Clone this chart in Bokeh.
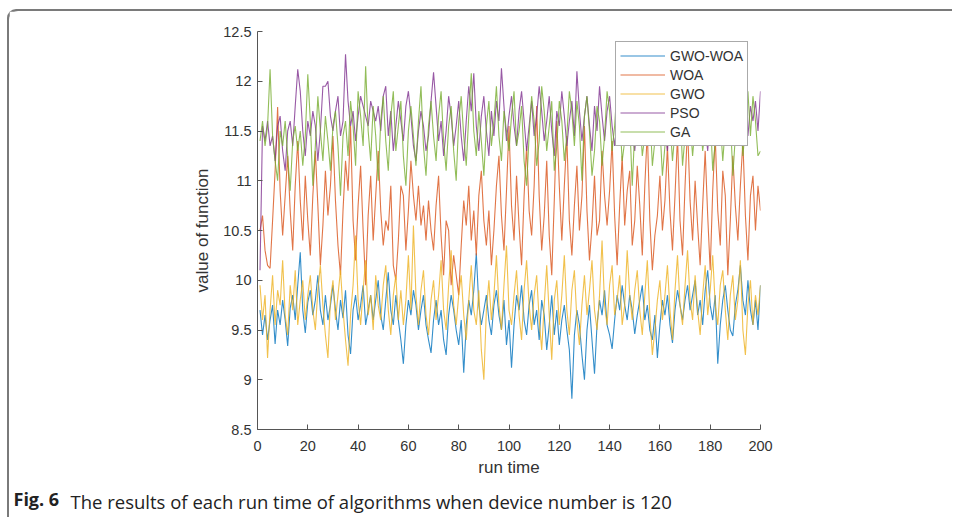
from bokeh.plotting import figure
from bokeh.models import (Label, Legend, LegendItem, FixedTicker, Styles,
                          NumeralTickFormatter, Range1d)
from bokeh.embed import file_html
from bokeh.resources import INLINE

run_time = list(range(1, 201))

gwo_woa = [
    9.70, 9.45, 9.65, 9.40, 9.60, 9.75, 9.36, 9.70, 9.55, 9.80,
    9.60, 9.34, 9.72, 9.85, 9.60, 9.95, 10.28, 9.70, 9.47, 9.78,
    9.90, 9.65, 9.80, 10.05, 9.70, 9.55, 9.85, 9.60, 9.75, 9.95,
    9.70, 9.50, 9.80, 9.62, 9.90, 9.45, 9.26, 9.70, 9.85, 9.60,
    9.75, 9.95, 9.55, 9.70, 9.85, 9.60, 9.80, 10.00, 9.65, 9.50,
    9.80, 10.08, 9.70, 9.55, 9.85, 9.60, 9.40, 9.16, 9.55, 9.80,
    9.65, 9.90, 9.75, 9.50, 9.70, 9.85, 9.55, 9.40, 9.27, 9.60,
    9.80, 9.55, 9.70, 9.40, 9.25, 9.65, 9.85, 9.70, 9.50, 9.35,
    9.60, 9.07, 9.55, 9.80, 9.65, 9.90, 10.27, 9.75, 9.55, 9.70,
    9.85, 9.60, 9.45, 9.75, 9.90, 9.65, 9.50, 9.80, 9.35, 9.60,
    9.12, 9.55, 9.85, 9.70, 9.95, 9.60, 9.45, 9.75, 9.90, 9.55,
    9.70, 9.40, 9.80, 9.65, 9.30, 9.55, 9.85, 9.45, 9.70, 9.35,
    9.60, 9.75, 9.50, 9.30, 8.81, 9.45, 9.70, 9.55, 9.25, 9.00,
    9.50, 9.75, 9.40, 9.06, 9.55, 9.80, 9.65, 9.90, 9.55, 9.45,
    9.31, 9.60, 9.85, 9.70, 9.95, 9.75, 9.60, 9.85, 9.70, 9.46,
    9.65, 9.80, 9.95, 9.60, 9.75, 9.50, 9.40, 9.65, 9.22, 9.55,
    9.80, 9.65, 9.85, 9.55, 9.37, 9.70, 9.90, 9.75, 9.60, 9.80,
    9.95, 9.70, 9.85, 10.00, 9.65, 9.80, 9.55, 9.90, 10.10, 9.75,
    9.60, 9.85, 9.16, 9.55, 9.80, 9.95, 9.70, 9.50, 9.44, 9.75,
    9.90, 10.15, 9.80, 9.65, 10.00, 9.70, 9.55, 9.80, 9.50, 9.95,
]

woa = [
    10.50, 10.65, 10.30, 10.15, 10.12, 10.60, 11.10, 11.74, 10.90, 10.45,
    10.85, 11.25, 10.70, 10.30, 10.95, 11.40, 10.80, 10.40, 11.05, 10.60,
    10.25, 10.85, 11.30, 10.75, 10.15, 10.55, 11.10, 10.65, 10.95, 11.45,
    10.80, 10.35, 10.05, 10.70, 11.20, 10.90, 11.55, 10.60, 10.20, 10.75,
    11.15, 10.50, 9.95, 10.65, 11.05, 10.40, 10.85, 11.30, 10.70, 10.35,
    10.60, 10.50, 10.95, 10.15, 10.00, 10.40, 10.95, 10.85, 10.30, 10.70,
    11.20, 10.85, 10.60, 10.95, 10.55, 10.75, 10.40, 10.80, 10.50, 10.30,
    10.75, 11.05, 10.45, 10.05, 10.60, 10.50, 9.95, 10.25, 10.05, 9.85,
    10.35, 10.80, 10.55, 10.95, 10.40, 10.70, 10.25, 10.85, 11.10, 10.60,
    10.35, 10.70, 10.15, 10.50, 10.95, 11.25, 10.65, 10.30, 10.90, 11.55,
    10.75, 10.40, 11.05, 10.55, 10.15, 10.85, 11.35, 10.70, 10.45, 10.95,
    11.75, 10.85, 10.30, 10.65, 11.20, 10.45, 10.05, 10.80, 11.60, 10.95,
    10.40, 10.95, 11.45, 10.60, 10.25, 10.75, 11.15, 10.50, 10.85, 11.55,
    10.70, 10.20, 10.55, 11.05, 10.45, 10.60, 11.30, 10.85, 10.55, 10.90,
    11.40, 10.65, 10.15, 10.75, 11.25, 10.55, 10.90, 11.10, 10.35, 10.60,
    11.15, 10.75, 10.25, 10.95, 11.50, 10.60, 10.10, 10.45, 10.65, 11.05,
    10.50, 10.80, 11.35, 10.70, 10.30, 10.85, 11.45, 10.60, 10.25, 10.95,
    11.55, 10.80, 10.40, 11.00, 10.55, 10.15, 10.75, 11.30, 10.65, 10.10,
    10.90, 11.45, 10.70, 10.35, 11.10, 10.85, 10.05, 10.60, 11.25, 10.75,
    10.40, 10.95, 11.40, 10.65, 10.20, 10.85, 11.05, 10.50, 10.95, 10.70,
]

gwo = [
    9.95, 9.60, 9.85, 9.22, 9.70, 10.05, 9.55, 9.90, 9.75, 10.20,
    9.65, 9.45, 9.95, 9.70, 10.10, 9.55, 9.80, 10.00, 9.60, 9.85,
    10.05, 9.70, 9.50, 9.90, 10.15, 9.75, 9.45, 9.22, 9.80, 10.00,
    9.60, 9.85, 10.10, 9.70, 9.40, 9.14, 9.65, 9.95, 10.45, 9.80,
    9.55, 9.90, 10.20, 9.65, 9.85, 9.50, 10.05, 9.75, 9.60, 9.95,
    10.15, 9.70, 9.45, 9.85, 10.05, 9.60, 9.90, 9.55, 9.80, 10.25,
    9.70, 10.55, 9.85, 9.55, 9.90, 10.10, 9.65, 9.45, 9.80, 10.00,
    9.60, 9.85, 10.20, 9.70, 9.50, 9.95, 10.30, 9.75, 9.55, 9.85,
    10.05, 9.65, 9.40, 9.80, 10.15, 9.70, 9.55, 9.90, 9.30, 9.00,
    9.70, 10.00, 9.60, 9.85, 10.25, 9.75, 9.50, 9.95, 10.35, 9.70,
    9.55, 9.85, 10.10, 9.65, 9.40, 9.90, 10.20, 9.75, 9.50, 9.85,
    10.05, 9.60, 9.30, 9.75, 10.15, 9.65, 9.20, 9.80, 10.00, 9.55,
    9.85, 10.25, 9.70, 9.45, 9.90, 10.10, 9.60, 9.35, 9.75, 10.05,
    9.65, 9.90, 10.20, 9.70, 9.50, 9.85, 10.40, 9.75, 9.55, 9.95,
    10.15, 9.65, 9.80, 10.05, 9.55, 9.75, 10.30, 9.85, 9.60, 9.90,
    10.10, 9.70, 9.45, 9.85, 10.20, 9.65, 9.25, 9.50, 9.80, 10.00,
    9.60, 9.85, 10.15, 9.70, 9.40, 9.90, 10.25, 9.75, 9.55, 9.95,
    10.30, 9.80, 9.60, 10.05, 9.70, 9.45, 9.85, 10.15, 9.65, 9.90,
    10.25, 9.75, 9.55, 9.95, 10.10, 9.70, 9.40, 9.85, 10.05, 9.60,
    9.80, 10.20, 9.50, 9.25, 9.75, 10.00, 9.55, 9.85, 9.65, 9.95,
]

pso = [
    10.10, 11.55, 11.40, 11.60, 11.35, 11.45, 11.20, 11.55, 11.65, 11.30,
    11.10, 11.50, 11.60, 11.35, 11.75, 12.12, 11.90, 11.50, 11.25, 11.60,
    11.45, 11.70, 11.55, 11.20, 11.50, 11.95, 11.95, 12.00, 11.65, 11.50,
    11.70, 11.85, 11.45, 11.60, 12.27, 11.80, 11.55, 11.70, 11.40, 11.65,
    11.85, 11.75, 11.65, 11.55, 11.80, 11.70, 11.60, 11.75, 11.50, 11.85,
    11.95, 11.45, 11.70, 11.30, 11.55, 11.80, 11.60, 11.40, 11.75, 11.90,
    11.65, 11.35, 11.20, 11.50, 11.70, 11.55, 11.30, 11.45, 11.80, 12.09,
    11.75, 11.40, 11.60, 11.25, 11.50, 11.85, 11.65, 11.35, 11.55, 11.80,
    11.45, 11.20, 11.60, 11.95, 11.70, 12.08, 11.55, 11.30, 11.65, 11.85,
    11.50, 11.25, 11.70, 11.45, 11.80, 11.60, 12.13, 11.75, 11.40, 11.65,
    11.85, 11.55, 11.35, 11.70, 11.90, 11.60, 11.30, 11.55, 11.80, 11.45,
    11.65, 11.95, 11.70, 11.40, 11.60, 11.85, 11.50, 11.25, 11.70, 11.55,
    11.90, 11.65, 11.35, 11.60, 11.80, 11.45, 12.10, 11.70, 11.40, 11.65,
    11.85, 11.55, 11.30, 11.75, 11.50, 11.95, 11.65, 11.40, 11.70, 11.85,
    11.55, 11.35, 11.60, 11.80, 11.45, 11.65, 11.95, 11.70, 11.50, 11.30,
    11.60, 11.85, 11.55, 11.75, 11.40, 11.65, 12.00, 11.70, 11.45, 11.60,
    11.80, 11.50, 11.30, 11.65, 11.90, 11.60, 11.40, 11.75, 11.55, 11.85,
    11.65, 11.35, 11.70, 11.95, 11.60, 11.45, 11.80, 11.55, 11.30, 11.65,
    11.90, 11.70, 11.40, 11.60, 11.85, 11.50, 11.75, 11.95, 11.60, 11.40,
    11.70, 11.55, 11.85, 11.65, 11.45, 11.75, 11.60, 11.80, 11.50, 11.90,
]

ga = [
    11.40, 11.60, 11.35, 11.55, 12.12, 11.45, 11.20, 11.00, 11.50, 11.35,
    11.60, 11.25, 10.90, 11.40, 11.55, 11.30, 11.50, 11.15, 11.45, 12.07,
    11.60, 10.95, 11.35, 11.85, 11.50, 11.20, 11.65, 11.40, 11.10, 11.55,
    11.70, 11.35, 10.85, 11.45, 11.60, 11.25, 11.80, 11.55, 11.15, 11.90,
    11.65, 11.35, 12.15, 11.50, 11.20, 11.75, 11.45, 11.00, 11.60, 11.85,
    11.40, 11.10, 11.65, 11.90, 11.30, 11.55, 11.80, 11.25, 10.95, 11.50,
    11.75, 11.45, 11.15, 11.60, 11.95, 11.35, 11.05, 11.55, 11.80, 11.45,
    11.20, 11.65, 11.90, 11.40, 11.10, 11.55, 11.75, 11.30, 11.00, 11.60,
    11.85, 11.45, 11.15, 11.65, 12.08, 11.50, 11.25, 11.70, 11.40, 11.05,
    11.55, 11.80, 11.35, 11.60, 11.95, 11.45, 11.20, 11.70, 11.50, 11.30,
    11.65, 11.90, 11.35, 11.50, 11.75, 11.20, 10.95, 11.45, 11.85, 11.60,
    11.15, 11.40, 11.95, 11.70, 11.30, 11.55, 11.80, 11.10, 11.35, 11.80,
    11.60, 11.20, 11.45, 11.90, 11.70, 11.35, 11.80, 11.55, 11.00, 11.65,
    11.85, 11.50, 11.05, 11.30, 11.75, 11.60, 11.15, 11.45, 11.90, 11.70,
    11.30, 11.55, 11.95, 11.65, 11.20, 11.40, 11.85, 11.60, 10.95, 11.50,
    11.80, 11.65, 11.25, 11.45, 11.95, 11.70, 11.15, 11.40, 11.85, 11.55,
    11.05, 11.35, 11.80, 11.60, 11.20, 11.50, 11.90, 11.75, 11.15, 11.45,
    11.85, 11.60, 11.25, 11.55, 11.95, 11.65, 11.30, 11.50, 11.85, 11.70,
    11.10, 11.40, 11.80, 11.60, 11.20, 11.55, 11.90, 11.65, 11.05, 11.45,
    11.85, 11.70, 11.25, 11.55, 11.90, 11.45, 11.85, 11.60, 11.25, 11.30,
]

series_names = ["GWO-WOA", "WOA", "GWO", "PSO", "GA"]
series_colors = ["#0072BD", "#D95319", "#EDB120", "#7E2F8E", "#77AC30"]
x_ticks = [0, 20, 40, 60, 80, 100, 120, 140, 160, 180, 200]
y_ticks = [8.5, 9, 9.5, 10, 10.5, 11, 11.5, 12, 12.5]
x_label = "run time"
y_label = "value of function"
caption_bold = "Fig. 6"
caption_text = "The results of each run time of algorithms when device number is 120"

# host element is shifted by (9, 11) so that its shadow draws the page frame
p = figure(width=945, height=508, output_backend="svg", toolbar_location=None,
           x_range=Range1d(0, 200), y_range=Range1d(8.5, 12.5),
           min_border_left=248, min_border_right=194,
           min_border_top=20, min_border_bottom=90)
p.styles = Styles(margin_left="9px", margin_top="11px",
                  box_shadow="-2px -2px 0px 0px #7a7a7a",
                  border_top_left_radius="9px")
p.grid.visible = False
p.outline_line_color = None
p.background_fill_color = "white"
p.border_fill_color = "white"

axis_col = "#555555"
for ax in p.axis:
    ax.major_tick_in = 5
    ax.major_tick_out = 0
    ax.minor_tick_line_color = None
    ax.axis_line_color = axis_col
    ax.major_tick_line_color = axis_col
    ax.major_label_text_color = "#333333"
    ax.major_label_text_font = "Liberation Sans"
    ax.major_label_text_font_size = "14.5px"
    ax.axis_label_text_font = "Liberation Sans"
    ax.axis_label_text_font_size = "17px"
    ax.axis_label_text_font_style = "normal"
    ax.axis_label_text_color = "#333333"

p.xaxis.ticker = FixedTicker(ticks=x_ticks)
p.yaxis.ticker = FixedTicker(ticks=y_ticks)
p.yaxis.formatter = NumeralTickFormatter(format="0.[0]")
p.xaxis.axis_label = x_label
p.yaxis.axis_label = y_label
p.xaxis.major_label_standoff = 11
p.xaxis.axis_label_standoff = 4
p.yaxis.major_label_standoff = 6
p.yaxis.axis_label_standoff = 8

data = [gwo_woa, woa, gwo, pso, ga]
renderers = []
for vals, col in zip(data, series_colors):
    r = p.line(run_time, vals, line_color=col, line_width=1.1, line_alpha=0.8)
    renderers.append(r)

legend = Legend(items=[LegendItem(label=n, renderers=[r]) for n, r in zip(series_names, renderers)],
                location=(358, 283), glyph_width=45, glyph_height=19, label_height=19,
                spacing=0, padding=4, margin=0, label_standoff=5,
                label_text_font="Liberation Sans", label_text_font_size="14px",
                label_text_color="#333333", border_line_color="#555555",
                border_line_width=1, background_fill_color="white", background_fill_alpha=1)
p.add_layout(legend)

p.add_layout(Label(x=-131, y=-69, x_units="screen", y_units="screen", text=caption_bold,
                   text_font="Open Sans", text_font_size="18px", text_font_style="bold",
                   text_color="#222222", text_baseline="middle"), "left")
p.add_layout(Label(x=-187, y=3, x_units="screen", y_units="screen", text=caption_text,
                   text_font="Open Sans", text_font_size="18.5px",
                   text_color="#222222", text_baseline="middle"), "below")

open("out.html", "w").write(file_html(p, INLINE))
